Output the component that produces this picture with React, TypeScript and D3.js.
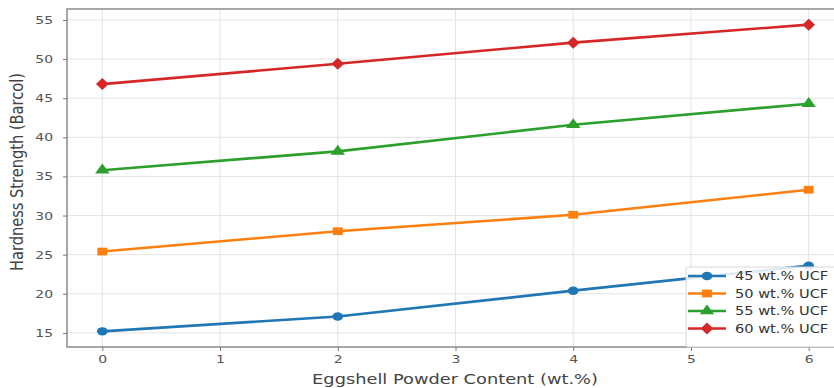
import React, { useRef, useEffect } from 'react';
import * as d3 from 'd3';

// Eggshell powder content (wt.%)
const eggshell = [0, 2, 4, 6];

// Hardness per fibre loading
const ucf45 = [15.2, 17.1, 20.4, 23.6];
const ucf50 = [25.4, 28.0, 30.1, 33.3];
const ucf55 = [35.8, 38.2, 41.6, 44.3];
const ucf60 = [46.8, 49.4, 52.1, 54.4];

const seriesNames = ['45 wt.% UCF', '50 wt.% UCF', '55 wt.% UCF', '60 wt.% UCF'];
const seriesColors = ['#1f77b4', '#ff7f0e', '#2ca02c', '#d62728'];
const seriesMarkers = ['circle', 'square', 'triangle', 'diamond'];

const xTicks = [0, 1, 2, 3, 4, 5, 6];
const yTicks = [15, 20, 25, 30, 35, 40, 45, 50, 55];

// the figure is stretched sideways
const sx = 1.27;

const App = () => {
  const svgRef = useRef<SVGSVGElement>(null);

  useEffect(() => {
    const w = 834;
    const h = 388;
    const margin = { left: 67, top: 9, right: -10, bottom: 41 };
    const svg = d3.select(svgRef.current).attr('width', w).attr('height', h);
    svg.selectAll('*').remove();

    const xScale = d3
      .scaleLinear()
      .domain([-0.3, 6.3])
      .range([margin.left, w - margin.right]);
    const yScale = d3
      .scaleLinear()
      .domain([13.2, 56.4])
      .range([h - margin.bottom, margin.top]);

    // Grid
    const grid = svg.append('g');
    grid
      .selectAll('.gx')
      .data(xTicks)
      .join('line')
      .attr('x1', (d) => xScale(d))
      .attr('x2', (d) => xScale(d))
      .attr('y1', margin.top)
      .attr('y2', h - margin.bottom)
      .style('stroke', '#e4e4e4')
      .style('stroke-width', 1);
    grid
      .selectAll('.gy')
      .data(yTicks)
      .join('line')
      .attr('x1', margin.left)
      .attr('x2', w)
      .attr('y1', (d) => yScale(d))
      .attr('y2', (d) => yScale(d))
      .style('stroke', '#e4e4e4')
      .style('stroke-width', 1);

    // Frame
    svg
      .append('rect')
      .attr('x', margin.left)
      .attr('y', margin.top)
      .attr('width', w - margin.right - margin.left)
      .attr('height', h - margin.bottom - margin.top)
      .style('fill', 'none')
      .style('stroke', '#8a8a8a')
      .style('stroke-width', 1.5);

    // Axes
    const xAxis = d3
      .axisBottom(xScale)
      .tickValues(xTicks)
      .tickFormat(d3.format('d'))
      .tickSize(4)
      .tickPadding(4);
    const yAxis = d3
      .axisLeft(yScale)
      .tickValues(yTicks)
      .tickFormat(d3.format('d'))
      .tickSize(4)
      .tickPadding(7);
    const gx = svg.append('g').attr('transform', `translate(0, ${h - margin.bottom})`).call(xAxis);
    const gy = svg.append('g').attr('transform', `translate(${margin.left}, 0)`).call(yAxis);
    [gx, gy].forEach((g) => {
      g.select('.domain').remove();
      g.selectAll('line').style('stroke', '#777');
      g.selectAll('text')
        .attr('transform', `scale(${sx}, 1)`)
        .style('fill', '#555')
        .style('font-family', 'DejaVu Sans, sans-serif')
        .style('font-size', '11px');
    });

    // Lines
    const allSeries = [ucf45, ucf50, ucf55, ucf60];
    const line = d3
      .line<number>()
      .x((_, i) => xScale(eggshell[i]))
      .y((d) => yScale(d));

    const symbolFor = (m: string) => {
      if (m === 'circle') return d3.symbol(d3.symbolCircle, 56)();
      if (m === 'square') return d3.symbol(d3.symbolSquare, 60)();
      if (m === 'triangle') return d3.symbol(d3.symbolTriangle, 56)();
      return 'M0,-6L5,0L0,6L-5,0Z';
    };

    allSeries.forEach((vals, s) => {
      svg
        .append('path')
        .datum(vals)
        .attr('d', line)
        .style('fill', 'none')
        .style('stroke', seriesColors[s])
        .style('stroke-width', 2.6);
      svg
        .selectAll(`.m${s}`)
        .data(vals)
        .join('path')
        .attr('d', symbolFor(seriesMarkers[s]))
        .attr('transform', (d, i) => `translate(${xScale(eggshell[i])}, ${yScale(d)}) scale(${sx}, 1)`)
        .style('fill', seriesColors[s]);
    });

    // Legend
    const legend = svg.append('g').attr('transform', 'translate(686, 267)');
    legend
      .append('rect')
      .attr('width', 160)
      .attr('height', 80)
      .attr('rx', 2)
      .style('fill', 'rgba(255,255,255,0.85)')
      .style('stroke', '#d8d8d8');
    seriesNames.forEach((name, s) => {
      const ly = 9 + s * 17.5;
      legend
        .append('line')
        .attr('x1', 2)
        .attr('x2', 40)
        .attr('y1', ly)
        .attr('y2', ly)
        .style('stroke', seriesColors[s])
        .style('stroke-width', 2.6);
      legend
        .append('path')
        .attr('d', symbolFor(seriesMarkers[s]))
        .attr('transform', `translate(21, ${ly}) scale(${sx}, 1)`)
        .style('fill', seriesColors[s]);
      legend
        .append('text')
        .text(name)
        .attr('transform', `translate(49, ${ly}) scale(${sx}, 1)`)
        .attr('dy', '0.35em')
        .style('fill', '#333')
        .style('font-family', 'DejaVu Sans, sans-serif')
        .style('font-size', '11.5px');
    });

    // Axis titles
    svg
      .append('text')
      .text('Eggshell Powder Content (wt.%)')
      .attr('transform', `translate(455, 384) scale(${sx}, 1)`)
      .attr('text-anchor', 'middle')
      .style('fill', '#444')
      .style('font-family', 'DejaVu Sans, sans-serif')
      .style('font-size', '14px');
    svg
      .append('text')
      .text('Hardness Strength (Barcol)')
      .attr('transform', `translate(23, 172) scale(${sx}, 1) rotate(-90)`)
      .attr('text-anchor', 'middle')
      .attr('textLength', 198)
      .attr('lengthAdjust', 'spacingAndGlyphs')
      .style('fill', '#444')
      .style('font-family', 'DejaVu Sans, sans-serif')
      .style('font-size', '13.5px');
  }, []);

  return (
    <div style={{ position: 'absolute', left: 0, top: 0 }}>
      <svg ref={svgRef} style={{ display: 'block' }}></svg>
    </div>
  );
};

export default App;
